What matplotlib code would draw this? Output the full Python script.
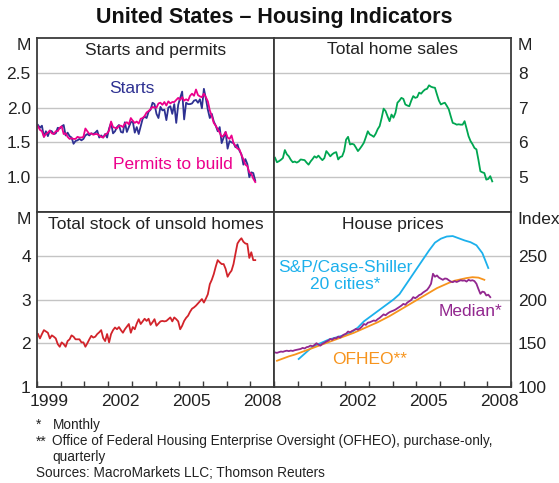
import numpy as np
import matplotlib
matplotlib.use("Agg")
import matplotlib.pyplot as plt

plt.rcParams['font.family'] = ['Liberation Sans', 'DejaVu Sans']

W, H = 559, 483

# monthly, Jan 1999 - Mar 2008 (millions, annualised)
starts = [1.75, 1.71, 1.74, 1.58, 1.66, 1.59, 1.67, 1.66, 1.62, 1.63, 1.71, 1.70,
          1.73, 1.75, 1.60, 1.64, 1.59, 1.57, 1.48, 1.52, 1.53, 1.55, 1.53, 1.55,
          1.60, 1.62, 1.60, 1.63, 1.62, 1.64, 1.67, 1.57, 1.60, 1.57, 1.62, 1.57,
          1.70, 1.78, 1.63, 1.66, 1.72, 1.75, 1.65, 1.64, 1.79, 1.65, 1.72, 1.79,
          1.80, 1.64, 1.72, 1.62, 1.73, 1.84, 1.87, 1.85, 1.94, 1.97, 2.07, 2.05,
          1.91, 1.85, 2.01, 1.96, 1.97, 1.82, 2.00, 2.02, 1.91, 2.05, 1.78, 2.04,
          2.14, 2.23, 1.83, 2.07, 2.05, 2.05, 2.06, 2.10, 2.11, 2.07, 2.12, 1.99,
          2.27, 2.13, 1.97, 1.85, 1.91, 1.80, 1.74, 1.66, 1.72, 1.49, 1.57, 1.65,
          1.41, 1.52, 1.50, 1.49, 1.43, 1.47, 1.38, 1.33, 1.18, 1.26, 1.19, 1.00,
          1.07, 1.06, 0.95]
permits = [1.73, 1.68, 1.66, 1.58, 1.62, 1.64, 1.67, 1.63, 1.62, 1.66, 1.66, 1.71,
           1.73, 1.62, 1.63, 1.58, 1.55, 1.56, 1.55, 1.55, 1.58, 1.57, 1.57, 1.58,
           1.70, 1.66, 1.62, 1.63, 1.61, 1.62, 1.62, 1.60, 1.58, 1.57, 1.61, 1.63,
           1.67, 1.80, 1.72, 1.71, 1.70, 1.74, 1.74, 1.72, 1.77, 1.79, 1.76, 1.85,
           1.81, 1.78, 1.80, 1.77, 1.84, 1.85, 1.88, 1.93, 1.95, 1.98, 2.01, 2.00,
           2.00, 2.06, 2.07, 2.04, 2.08, 2.03, 2.09, 2.06, 2.08, 2.08, 2.11, 2.14,
           2.11, 2.15, 2.10, 2.12, 2.10, 2.17, 2.20, 2.17, 2.26, 2.18, 2.16, 2.15,
           2.20, 2.15, 2.09, 1.96, 1.88, 1.78, 1.74, 1.69, 1.64, 1.58, 1.60, 1.65,
           1.57, 1.55, 1.60, 1.49, 1.45, 1.41, 1.40, 1.32, 1.26, 1.18, 1.16, 1.07,
           1.05, 0.98, 0.93]

# total home sales, monthly Jan 1999 - Mar 2008 (millions)
sales = [5.56, 5.43, 5.46, 5.50, 5.55, 5.78, 5.66, 5.60, 5.50, 5.43, 5.45, 5.42,
         5.45, 5.51, 5.50, 5.49, 5.42, 5.36, 5.45, 5.52, 5.60, 5.56, 5.62, 5.55,
         5.49, 5.55, 5.75, 5.68, 5.60, 5.66, 5.70, 5.72, 5.51, 5.58, 5.60, 5.75,
         6.08, 6.16, 5.94, 5.96, 5.94, 5.85, 5.75, 5.82, 5.90, 5.99, 6.15, 6.32,
         6.23, 6.20, 6.16, 6.25, 6.38, 6.47, 6.70, 6.97, 6.90, 6.75, 6.61, 6.80,
         6.71, 6.85, 7.14, 7.20, 7.28, 7.25, 7.09, 7.06, 7.04, 7.20, 7.33, 7.28,
         7.30, 7.43, 7.40, 7.47, 7.52, 7.54, 7.64, 7.60, 7.58, 7.57, 7.38, 7.20,
         7.09, 7.12, 7.14, 7.05, 6.95, 6.75, 6.56, 6.54, 6.51, 6.52, 6.51, 6.51,
         6.61, 6.40, 6.18, 6.04, 5.95, 5.84, 5.80, 5.50, 5.17, 5.14, 5.12, 4.93,
         4.95, 5.03, 4.88]

# stock of unsold homes, monthly Jan 1999 - Mar 2008 (millions)
stock = [2.21, 2.11, 2.21, 2.30, 2.27, 2.24, 2.11, 2.18, 2.15, 2.11, 1.98, 1.92,
         2.02, 1.98, 1.92, 2.05, 2.09, 2.18, 2.15, 2.09, 2.09, 2.09, 2.02, 2.02,
         1.92, 2.00, 2.09, 2.17, 2.13, 2.15, 2.21, 2.25, 2.30, 2.12, 2.05, 2.21,
         2.02, 2.21, 2.30, 2.36, 2.32, 2.37, 2.30, 2.24, 2.32, 2.38, 2.44, 2.24,
         2.37, 2.32, 2.45, 2.55, 2.44, 2.50, 2.56, 2.51, 2.56, 2.42, 2.48, 2.55,
         2.40, 2.45, 2.50, 2.51, 2.50, 2.51, 2.55, 2.59, 2.50, 2.59, 2.55, 2.50,
         2.32, 2.40, 2.51, 2.58, 2.63, 2.72, 2.79, 2.82, 2.86, 2.91, 2.96, 3.01,
         2.93, 3.02, 3.12, 3.35, 3.45, 3.58, 3.75, 3.90, 3.85, 3.81, 3.81, 3.70,
         3.52, 3.60, 3.66, 3.81, 4.05, 4.28, 4.35, 4.40, 4.32, 4.28, 4.27, 3.95,
         4.08, 3.90, 3.90]

# house prices (index)
# S&P/Case-Shiller, every 3 months from Jan 2000
case_shiller = [132, 138, 144, 148, 151, 154, 156, 158, 160, 163, 168, 175,
                180, 185, 190, 195, 200, 206, 216, 226, 236, 246, 256, 265,
                269.5, 272, 272.5, 270, 267.5, 265.5, 262, 253, 236]
# median price, monthly Jan 1999 - Feb 2008
median = [139.5, 139.0, 139.8, 140.5, 140.2, 141.0, 141.5, 141.0, 141.6, 141.2, 142.0, 142.5,
          143.0, 143.5, 144.7, 144.0, 145.5, 146.0, 147.3, 146.5, 148.0, 150.0, 148.5, 147.3,
          149.5, 150.5, 152.0, 153.0, 155.0, 154.0, 156.0, 155.5, 157.6, 156.5, 158.5, 160.0,
          161.0, 163.4, 162.5, 164.0, 165.0, 166.4, 165.5, 167.0, 169.0, 172.0, 171.0, 173.5,
          174.0, 175.0, 176.0, 175.5, 177.5, 179.0, 181.0, 183.0, 182.0, 184.0, 185.5, 186.5,
          187.4, 188.5, 190.0, 191.5, 193.0, 195.0, 194.0, 196.5, 198.0, 199.5, 202.7, 201.5,
          203.0, 205.0, 206.0, 208.0, 209.5, 211.0, 214.0, 218.0, 229.4, 226.0, 227.5, 225.0,
          223.7, 222.5, 224.0, 223.7, 222.0, 220.5, 219.8, 221.0, 220.0, 221.0, 222.0, 221.5,
          221.8, 220.5, 222.5, 221.5, 222.0, 221.0, 218.0, 212.0, 206.5, 209.0, 208.4, 204.6,
          205.5, 202.7]
# OFHEO, quarterly 1999Q1 - 2007Q4
ofheo = [130, 132.5, 135, 137, 139.5, 142, 144.5, 147, 149.5, 152, 154.5, 157,
         159.5, 162, 165, 168, 171, 174, 177.5, 181, 185, 189, 193, 197,
         201, 205, 209, 213, 216, 219, 221.5, 223, 224.5, 225.5, 225, 222.5]

years_left = [1999, 2002, 2005, 2008]
years_right = [2002, 2005, 2008]

C_STARTS = '#2e3192'
C_PERMITS = '#ec008c'
C_SALES = '#00a651'
C_STOCK = '#d2232a'
C_CS = '#1cb0ec'
C_MEDIAN = '#92278f'
C_OFHEO = '#f7941d'
GRID = '#c4c4c4'
SPINE = '#3a3a3a'
FS = 12.5


def monthly(vals, start):
    return start + np.arange(len(vals)) / 12 + 1 / 24


def fx(x):
    return x / W


def fy(y):
    return 1 - y / H


L, M, R = fx(37), fx(274), fx(511)
T, MID, B = fy(38), fy(212), fy(387)

fig = plt.figure(figsize=(W / 100, H / 100), dpi=100)
ax1 = fig.add_axes([L, MID, M - L, T - MID])
ax2 = fig.add_axes([M, MID, R - M, T - MID])
ax3 = fig.add_axes([L, B, M - L, MID - B])
ax4 = fig.add_axes([M, B, R - M, MID - B])

lw = 1.3
ax1.plot(monthly(starts, 1999), starts, color=C_STARTS, lw=lw)
ax1.plot(monthly(permits, 1999), permits, color=C_PERMITS, lw=lw)
ax2.plot(monthly(sales, 1999), sales, color=C_SALES, lw=lw)
ax3.plot(monthly(stock, 1999), stock, color=C_STOCK, lw=lw)
ax4.plot(2000 + np.arange(len(case_shiller)) / 4 + 1 / 24, case_shiller, color=C_CS, lw=lw)
ax4.plot(2000 + np.arange(len(ofheo)) / 4 + 1 / 8 - 1, ofheo, color=C_OFHEO, lw=lw)
ax4.plot(monthly(median, 1999), median, color=C_MEDIAN, lw=lw)

ax1.set_ylim(0.5, 3.0)
ax1.set_yticks([1.0, 1.5, 2.0, 2.5])
ax1.set_yticklabels(['1.0', '1.5', '2.0', '2.5'])
ax2.set_ylim(4, 9)
ax2.set_yticks([5, 6, 7, 8])
ax3.set_ylim(1, 5)
ax3.set_yticks([1, 2, 3, 4])
ax4.set_ylim(100, 300)
ax4.set_yticks([100, 150, 200, 250])

for ax in (ax1, ax2, ax3, ax4):
    ax.set_xlim(1999, 2009)
    ax.grid(axis='y', color=GRID, lw=1.0)
    ax.set_axisbelow(True)
    for s in ax.spines.values():
        s.set_color(SPINE)
        s.set_linewidth(1.3)
    ax.tick_params(axis='y', length=0, labelsize=FS, colors='#222222', pad=4.5)

for ax in (ax2, ax4):
    ax.yaxis.tick_right()
    ax.tick_params(axis='y', pad=5)

for ax in (ax1, ax2):
    ax.set_xticks([])

for ax, labs in ((ax3, years_left), (ax4, years_right)):
    ax.set_xticks(range(1999, 2010))
    ax.set_xticklabels([])
    ax.set_xticks([y + 0.5 for y in labs], minor=True)
    ax.set_xticklabels([str(y) for y in labs], minor=True)
    ax.tick_params(axis='x', which='major', direction='in', length=4, width=1.0, color=SPINE)
    ax.tick_params(axis='x', which='minor', length=0, labelsize=FS, colors='#222222', pad=5)

# panel titles
for ax, t in ((ax1, 'Starts and permits'), (ax2, 'Total home sales'),
              (ax3, 'Total stock of unsold homes'), (ax4, 'House prices')):
    ax.text(0.5, 1 - 12 / 174, t, transform=ax.transAxes, ha='center', va='center',
            fontsize=FS, color='#222222')

# series labels
ax1.text(2003.0, 2.28, 'Starts', color=C_STARTS, fontsize=FS, ha='center', va='center')
ax1.text(2004.75, 1.18, 'Permits to build', color=C_PERMITS, fontsize=FS, ha='center', va='center')
ax4.text(2002.0, 227, 'S&P/Case-Shiller\n20 cities*', color=C_CS, fontsize=FS,
         ha='center', va='center', multialignment='center', linespacing=1.2)
ax4.text(2007.3, 186, 'Median*', color=C_MEDIAN, fontsize=FS, ha='center', va='center')
ax4.text(2003.05, 132, 'OFHEO**', color=C_OFHEO, fontsize=FS, ha='center', va='center')

# unit labels
fig.text(fx(31), fy(45), 'M', ha='right', va='center', fontsize=FS, color='#222222')
fig.text(fx(31), fy(220), 'M', ha='right', va='center', fontsize=FS, color='#222222')
fig.text(fx(518), fy(45), 'M', ha='left', va='center', fontsize=FS, color='#222222')
fig.text(fx(517), fy(220), 'Index', ha='left', va='center', fontsize=FS, color='#222222')

fig.text(fx(274), fy(18), 'United States \u2013 Housing Indicators', ha='center', va='center',
         fontsize=15.5, fontweight='bold', color='#111111')

# footnotes
fn = 9.8
fig.text(fx(36), fy(425), '*', ha='left', va='center', fontsize=fn, color='#222222')
fig.text(fx(52.5), fy(425), 'Monthly', ha='left', va='center', fontsize=fn, color='#222222')
fig.text(fx(36), fy(441.5), '**', ha='left', va='center', fontsize=fn, color='#222222')
fig.text(fx(52.5), fy(441.5), 'Office of Federal Housing Enterprise Oversight (OFHEO), purchase-only,',
         ha='left', va='center', fontsize=fn, color='#222222')
fig.text(fx(52.5), fy(457), 'quarterly', ha='left', va='center', fontsize=fn, color='#222222')
fig.text(fx(36), fy(473), 'Sources: MacroMarkets LLC; Thomson Reuters', ha='left', va='center',
         fontsize=fn, color='#222222')

fig.savefig('out.png', dpi=100)
